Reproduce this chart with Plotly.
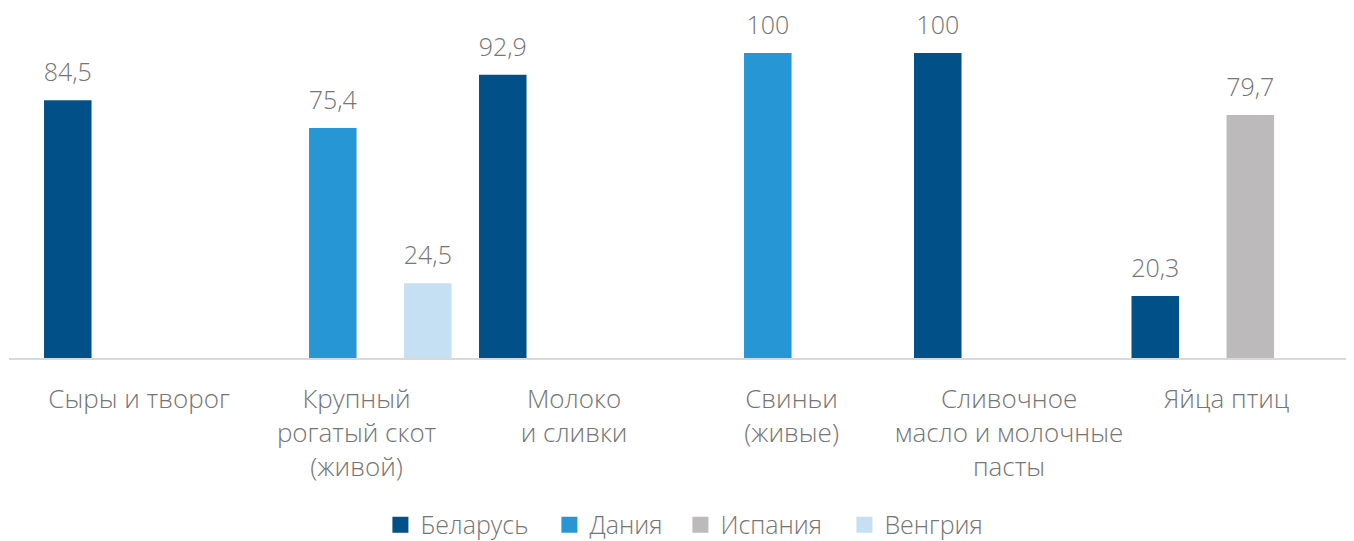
import plotly.graph_objects as go

categories = [
    "Сыры и творог",
    "Крупный<br>рогатый скот<br>(живой)",
    "Молоко<br>и сливки",
    "Свиньи<br>(живые)",
    "Сливочное<br>масло и молочные<br>пасты",
    "Яйца птиц",
]
series_names = ["Беларусь", "Дания", "Испания", "Венгрия"]
belarus = [84.5, None, 92.9, None, 100, 20.3]
denmark = [None, 75.4, None, 100, None, None]
spain = [None, None, None, None, None, 79.7]
hungary = [None, 24.5, None, None, None, None]
series_values = [belarus, denmark, spain, hungary]
colors = ["#025088", "#2696D5", "#BCBABB", "#C5DFF3"]
legend_widths = [124, 86, 119, 112]

FONT = "Open Sans"
TXT = "#757575"
GAP = 0.126


def fmt(v):
    if v is None:
        return None
    return f"{v:g}".replace(".", ",")


fig = go.Figure()
for i, (name, vals, col) in enumerate(zip(series_names, series_values, colors)):
    fig.add_trace(go.Bar(
        name=name, x=categories, y=vals, marker=dict(color=col, line=dict(width=0)),
        offsetgroup=str(i), hoverinfo="skip", showlegend=False,
    ))
for i, (name, vals) in enumerate(zip(series_names, series_values)):
    fig.add_trace(go.Scatter(
        x=categories, y=vals, mode="markers+text",
        text=[fmt(v) for v in vals], textposition="top center",
        textfont=dict(family=FONT, size=25, color=TXT, weight=300),
        marker=dict(size=19, opacity=0), offsetgroup=str(i),
        showlegend=False, hoverinfo="skip", cliponaxis=False,
    ))
# legend entries (square swatches like the reference)
for name, col, lw in zip(series_names, colors, legend_widths):
    fig.add_trace(go.Scatter(
        x=[None], y=[None], mode="markers", name=name,
        marker=dict(symbol="square", size=16, color=col, line=dict(width=0)),
        legendwidth=lw, hoverinfo="skip", showlegend=True,
    ))

# page body has an 8px margin, so the figure is sized to fill the rest of the window
fig.update_layout(
    width=1346, height=533,
    margin=dict(l=1, r=0, t=45, b=183, autoexpand=False),
    paper_bgcolor="white", plot_bgcolor="white",
    barmode="group", bargap=GAP, bargroupgap=0,
    scattermode="group", scattergap=GAP,
    font=dict(family=FONT, color=TXT, size=25, weight=300),
    showlegend=True,
    legend=dict(orientation="h", x=0.507, xanchor="center", y=-0.5475, yanchor="middle",
                font=dict(family=FONT, size=25, color=TXT, weight=300),
                traceorder="normal", itemclick=False),
    xaxis=dict(type="category", range=[-0.598, 5.586], showline=True,
               linecolor="#D9D9D9", linewidth=2, ticks="", showgrid=False,
               automargin=False,
               ticklabelstandoff=17, tickfont=dict(family=FONT, size=26, color=TXT, weight=300)),
    yaxis=dict(range=[0, 100], visible=False, showgrid=False, zeroline=False,
               automargin=False),
)

fig.write_html("out.html")
